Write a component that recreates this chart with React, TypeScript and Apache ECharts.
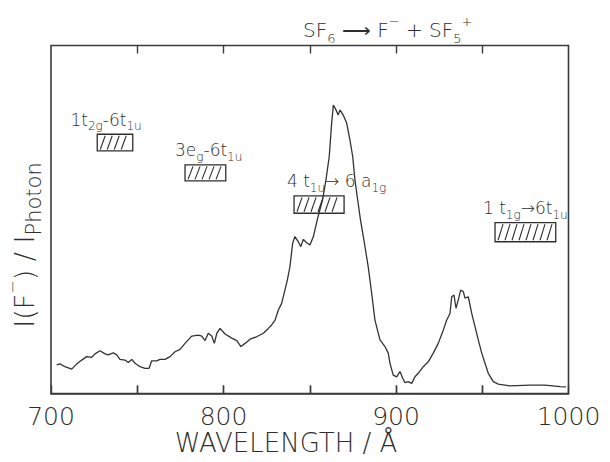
import React, { useEffect, useRef } from "react";
import * as echarts from "echarts";

// Spectrum: wavelength (Å) and relative ion yield I(F-)/I_photon (arb. units)
const wavelength = [
  703.3, 705.2, 708.1, 712.0, 714.9, 717.8, 720.7, 723.6, 725.5, 728.4,
  731.3, 733.2, 736.1, 738.1, 740.0, 742.9, 744.8, 746.8, 748.7, 751.6,
  754.5, 756.8, 758.4, 761.3, 763.2, 766.1, 769.0, 771.9, 774.8, 777.7,
  781.6, 785.4, 787.4, 789.3, 791.2, 793.2, 794.7, 796.1, 798.0, 800.9,
  804.8, 807.7, 810.1, 812.5, 815.4, 819.2, 823.1, 826.0, 827.9, 829.9,
  831.8, 833.7, 835.6, 837.0, 838.5, 840.1, 841.4, 843.4, 844.8, 846.3,
  848.2, 850.1, 852.1, 854.8, 857.4, 859.4, 861.3, 862.7, 863.7, 865.2,
  866.5, 867.5, 869.4, 871.4, 873.3, 874.9, 876.2, 877.8, 879.4, 881.4,
  883.9, 885.9, 887.8, 890.7, 893.6, 895.5, 896.5, 898.4, 900.4, 902.3,
  903.9, 905.2, 907.1, 909.1, 911.0, 912.9, 915.8, 918.7, 921.6, 924.5,
  927.4, 929.4, 931.3, 932.3, 933.6, 934.8, 936.1, 937.5, 939.0, 940.0,
  941.9, 943.9, 945.8, 947.7, 949.7, 951.6, 953.5, 956.4, 959.3, 966.1,
  977.7, 986.4, 995.1, 998.5,
];
const intensity = [
  8.2, 8.5, 7.7, 7.0, 8.5, 9.6, 10.6, 10.4, 11.4, 12.3,
  11.4, 11.1, 11.7, 11.1, 9.8, 9.6, 8.9, 9.8, 8.7, 7.7,
  7.2, 7.2, 9.4, 9.4, 9.8, 9.8, 10.6, 12.0, 12.7, 14.4,
  16.5, 16.8, 16.5, 15.2, 17.3, 16.5, 14.4, 17.3, 18.7, 17.1,
  15.9, 15.2, 13.5, 14.4, 15.6, 16.3, 17.3, 18.7, 19.7, 21.1,
  24.0, 25.9, 29.7, 32.6, 36.4, 43.2, 45.1, 43.6, 42.2, 44.3,
  43.3, 42.7, 45.1, 50.8, 55.6, 61.4, 68.1, 77.7, 82.9, 81.5,
  80.0, 81.5, 80.0, 77.7, 72.9, 68.1, 61.4, 55.6, 49.9, 44.1,
  36.4, 28.8, 21.1, 15.4, 13.5, 11.6, 8.7, 5.3, 4.8, 6.3,
  4.4, 3.1, 3.4, 2.9, 4.8, 5.8, 7.7, 9.1, 11.6, 14.4,
  18.2, 21.1, 23.0, 27.8, 28.3, 24.5, 26.9, 29.7, 29.3, 27.4,
  27.8, 23.0, 19.2, 15.4, 11.6, 8.7, 5.8, 3.4, 2.7, 2.2,
  2.4, 2.4, 2.0, 1.9,
];

// Transition bands (hatched boxes)
const bandLabels = [
  "1t{s|2g}-6t{s|1u}",
  "3e{s|g}-6t{s|1u}",
  "4 t{s|1u}→ 6 a{s|1g}",
  "1 t{s|1g}→6t{s|1u}",
];
const bandStart = [726.8, 777.7, 840.9, 957.4];
const bandEnd = [747.4, 801.3, 869.9, 992.6];
const bandTop = [74.5, 65.7, 56.8, 49.1];
const bandBottom = [69.7, 61.1, 51.8, 43.6];
const labelStart = [711.3, 771.9, 836.8, 950.4];

// Axis
const xMin = 700;
const xMax = 1000;
const yMin = 0;
const yMax = 100;
const xTickValues = [750, 800, 850, 900, 950];
const xTickLabels = ["700", "800", "900", "1000"];

const FONT = "'DejaVu Sans', 'Noto Sans', sans-serif";
const INK = "#2e2e2e";
const FRAME = "#3a3a3a";

export default function App() {
  const ref = useRef<HTMLDivElement>(null);

  useEffect(() => {
    if (!ref.current) return;
    const chart = echarts.init(ref.current, undefined, { renderer: "svg" });

    const lineData = wavelength.map((w, i) => [w, intensity[i]]);
    const bandData = bandStart.map((s, i) => [s, bandTop[i], bandEnd[i], bandBottom[i], labelStart[i]]);

    // tick length of about 8 px expressed in y units (plot height 348 px for 100 units)
    const tickLen = 2.3;
    const tickSegments: any[] = [];
    xTickValues.forEach((v) => {
      tickSegments.push([{ coord: [v, yMin] }, { coord: [v, yMin + tickLen] }]);
      tickSegments.push([{ coord: [v, yMax] }, { coord: [v, yMax - tickLen] }]);
    });

    const subRich = {
      s: { fontSize: 12, fontFamily: FONT, fontWeight: 200, fill: INK, verticalAlign: "bottom", lineHeight: 12 },
    };

    const textGraphics: any[] = [
      {
        id: "xname",
        type: "text",
        x: 286,
        y: 443,
        style: {
          text: "WAVELENGTH / Å",
          fontSize: 26,
          fontFamily: FONT,
          fontWeight: 200,
          fill: INK,
          align: "center",
          verticalAlign: "middle",
        },
      },
      {
        id: "yname",
        type: "text",
        x: 24,
        y: 245,
        rotation: Math.PI / 2,
        style: {
          text: "I(F{p|−}) / I{s|Photon}",
          fontSize: 27,
          fontFamily: FONT,
          fontWeight: 200,
          fill: INK,
          align: "center",
          verticalAlign: "middle",
          lineHeight: 40,
          rich: {
            s: { fontSize: 21, fontFamily: FONT, fontWeight: 200, fill: INK, verticalAlign: "bottom", lineHeight: 21 },
            p: { fontSize: 16, fontFamily: FONT, fontWeight: 200, fill: INK, verticalAlign: "top", lineHeight: 16 },
          },
        },
      },
      {
        id: "title",
        type: "text",
        x: 303,
        y: 30,
        style: {
          text: "SF{s|6} ⟶ F{p|−} + SF{s|5}{p|+}",
          fontSize: 20,
          fontFamily: FONT,
          fontWeight: 200,
          fill: INK,
          align: "left",
          verticalAlign: "middle",
          lineHeight: 30,
          rich: {
            s: { fontSize: 13, fontFamily: FONT, fontWeight: 200, fill: INK, verticalAlign: "bottom", lineHeight: 13 },
            p: { fontSize: 13, fontFamily: FONT, fontWeight: 200, fill: INK, verticalAlign: "top", lineHeight: 13 },
          },
        },
      },
    ];

    const option: any = {
      animation: false,
      backgroundColor: "#ffffff",
      grid: {
        left: 51,
        right: 41.5,
        top: 45.5,
        bottom: 68.5,
        show: true,
        borderColor: FRAME,
        borderWidth: 1.6,
        backgroundColor: "transparent",
      },
      xAxis: {
        type: "value",
        min: xMin,
        max: xMax,
        interval: 50,
        position: "bottom",
        axisLine: { show: true, lineStyle: { color: FRAME, width: 1.6 } },
        splitLine: { show: false },
        axisTick: { show: true, inside: true, length: 8, lineStyle: { color: FRAME, width: 1.4 } },
        axisLabel: {
          show: true,
          margin: 10,
          fontSize: 25,
          fontFamily: FONT,
          fontWeight: 200,
          color: INK,
          formatter: (v: number) => (xTickLabels.includes(String(v)) ? String(v) : ""),
        },
      },
      yAxis: {
        type: "value",
        min: yMin,
        max: yMax,
        show: true,
        axisLine: { show: false },
        axisTick: { show: false },
        axisLabel: { show: false },
        splitLine: { show: false },
      },
      graphic: textGraphics,
      series: [
        {
          type: "line",
          data: lineData,
          showSymbol: false,
          symbol: "none",
          lineStyle: { color: "#333", width: 1.3 },
          silent: true,
          z: 3,
          markLine: {
            silent: true,
            symbol: ["none", "none"],
            label: { show: false },
            lineStyle: { color: FRAME, width: 1.4, type: "solid" },
            data: tickSegments,
          },
        },
        {
          type: "custom",
          data: bandData,
          encode: { x: [0, 2], y: [1, 3] },
          clip: false,
          silent: true,
          z: 4,
          renderItem: (params: any, api: any) => {
            const i = params.dataIndex;
            const a = api.coord([api.value(0), api.value(1)]);
            const b = api.coord([api.value(2), api.value(3)]);
            const l = api.coord([api.value(4), api.value(1)]);
            const x0 = a[0];
            const y0 = a[1];
            const x1 = b[0];
            const y1 = b[1];
            const children: any[] = [
              {
                type: "rect",
                shape: { x: x0, y: y0, width: x1 - x0, height: y1 - y0 },
                style: { fill: "none", stroke: INK, lineWidth: 1.3 },
              },
            ];
            for (let x = x0 + 3; x + 5 <= x1 - 2; x += 7) {
              children.push({
                type: "line",
                shape: { x1: x, y1: y1 - 1.5, x2: x + 5, y2: y0 + 1.5 },
                style: { stroke: INK, lineWidth: 1.1 },
              });
            }
            children.push({
              type: "text",
              x: l[0],
              y: y0 - 2,
              style: {
                text: bandLabels[i],
                fontSize: 17,
                fontFamily: FONT,
                fontWeight: 200,
                fill: INK,
                align: "left",
                verticalAlign: "bottom",
                lineHeight: 25,
                rich: subRich,
              },
            });
            return { type: "group", children };
          },
        },
      ],
    };

    chart.setOption(option);
    return () => chart.dispose();
  }, []);

  return (
    <div
      ref={ref}
      style={{ position: "fixed", left: 0, top: 0, width: 610, height: 462, background: "#fff" }}
    />
  );
}
